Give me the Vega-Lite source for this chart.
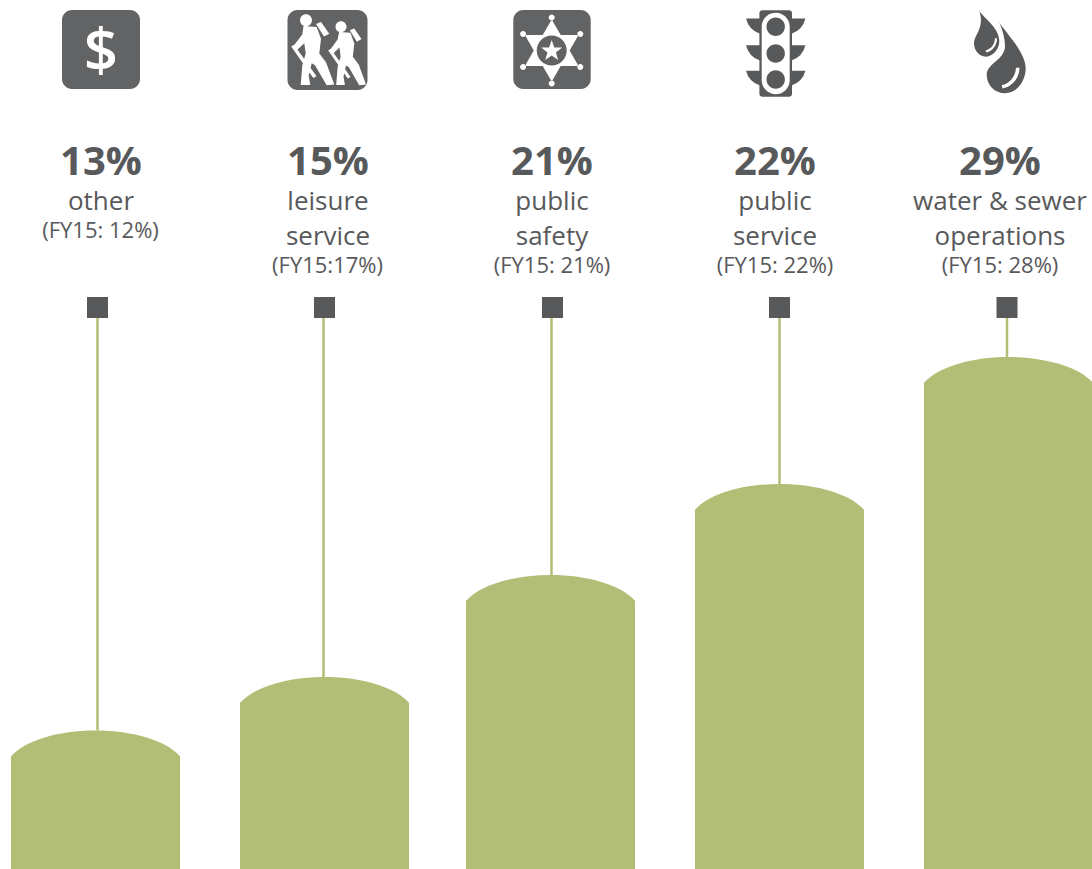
{
  "$schema": "https://vega.github.io/schema/vega-lite/v6.json",
  "width": 1092,
  "height": 869,
  "padding": 0,
  "autosize": {"type": "none"},
  "background": "#ffffff",
  "config": {"view": {"stroke": null}},
  "datasets": {
    "categories": [
      {"rank": 1, "category": "other", "share": 13, "prior": "(FY15: 12%)", "nameLines": 1},
      {"rank": 2, "category": "leisure service", "share": 15, "prior": "(FY15:17%)", "nameLines": 2},
      {"rank": 3, "category": "public safety", "share": 21, "prior": "(FY15: 21%)", "nameLines": 2},
      {"rank": 4, "category": "public service", "share": 22, "prior": "(FY15: 22%)", "nameLines": 2},
      {"rank": 5, "category": "water & sewer operations", "share": 29, "prior": "(FY15: 28%)", "nameLines": 2}
    ],
    "textLines": [
      {"rank": 1, "line": 0, "text": "13%"},
      {"rank": 2, "line": 0, "text": "15%"},
      {"rank": 3, "line": 0, "text": "21%"},
      {"rank": 4, "line": 0, "text": "22%"},
      {"rank": 5, "line": 0, "text": "29%"},
      {"rank": 1, "line": 1, "text": "other"},
      {"rank": 2, "line": 1, "text": "leisure"},
      {"rank": 2, "line": 2, "text": "service"},
      {"rank": 3, "line": 1, "text": "public"},
      {"rank": 3, "line": 2, "text": "safety"},
      {"rank": 4, "line": 1, "text": "public"},
      {"rank": 4, "line": 2, "text": "service"},
      {"rank": 5, "line": 1, "text": "water & sewer"},
      {"rank": 5, "line": 2, "text": "operations"}
    ],
    "iconParts": [
      {"rank": 1, "part": "plateDollar", "tone": "plate"},
      {"rank": 2, "part": "plateHikers", "tone": "plate"},
      {"rank": 2, "part": "hikers", "tone": "light"},
      {"rank": 3, "part": "plateBadge", "tone": "plate"},
      {"rank": 3, "part": "badge", "tone": "light"},
      {"rank": 3, "part": "badgeDisc", "tone": "plate"},
      {"rank": 3, "part": "badgeStar", "tone": "light"},
      {"rank": 4, "part": "signalHousing", "tone": "dark"},
      {"rank": 4, "part": "signalCapsule", "tone": "light"},
      {"rank": 4, "part": "signalLamps", "tone": "dark"},
      {"rank": 5, "part": "drops", "tone": "dark"},
      {"rank": 5, "part": "dropGlints", "tone": "light"}
    ]
  },
  "resolve": {"scale": {"x": "independent", "y": "independent", "shape": "independent", "color": "independent"}},
  "layer": [
    {
      "data": {"name": "categories"},
      "mark": {"type": "bar", "width": 169, "orient": "vertical", "yOffset": 25.5, "y2Offset": 0, "color": "#b2be76", "clip": true},
      "encoding": {
        "x": {"field": "rank", "type": "quantitative", "axis": null, "scale": {"domain": [1, 2, 3, 4, 5], "range": [95.5, 324.5, 550.5, 779.5, 1008.5], "padding": 0}},
        "y": {"field": "share", "type": "quantitative", "axis": null, "stack": null, "scale": {"domain": [0, 13, 15, 21, 22, 29, 33], "range": [869, 730.5, 677, 575, 484, 357, 307.5]}},
        "y2": {"datum": 0}
      }
    },
    {
      "data": {"name": "categories"},
      "mark": {"type": "point", "filled": true, "opacity": 1, "size": 4, "strokeWidth": 0, "color": "#b2be76", "shape": "M-84.5,26 A90,39.6 0 0 1 84.5,26 Z"},
      "encoding": {
        "x": {"field": "rank", "type": "quantitative", "axis": null, "scale": {"domain": [1, 2, 3, 4, 5], "range": [95.5, 324.5, 550.5, 779.5, 1008.5]}},
        "y": {"field": "share", "type": "quantitative", "axis": null, "scale": {"domain": [0, 13, 15, 21, 22, 29, 33], "range": [869, 730.5, 677, 575, 484, 357, 307.5]}}
      }
    },
    {
      "data": {"name": "categories"},
      "mark": {"type": "rule", "color": "#b2be76", "strokeWidth": 2.5},
      "encoding": {
        "x": {"field": "rank", "type": "quantitative", "axis": null, "scale": {"domain": [1, 2, 3, 4, 5], "range": [97.5, 323.5, 551.5, 779.5, 1007]}},
        "y": {"field": "share", "type": "quantitative", "axis": null, "scale": {"domain": [0, 13, 15, 21, 22, 29, 33], "range": [869, 730.5, 677, 575, 484, 357, 307.5]}},
        "y2": {"datum": 33}
      }
    },
    {
      "data": {"name": "categories"},
      "mark": {"type": "point", "shape": "square", "filled": true, "opacity": 1, "size": 441, "strokeWidth": 0, "color": "#58595b"},
      "encoding": {
        "x": {"field": "rank", "type": "quantitative", "axis": null, "scale": {"domain": [1, 2, 3, 4, 5], "range": [97.5, 324.5, 552.5, 779.5, 1007]}},
        "y": {"datum": 33, "type": "quantitative", "axis": null, "scale": {"domain": [0, 13, 15, 21, 22, 29, 33], "range": [869, 730.5, 677, 575, 484, 357, 307.5]}}
      }
    },
    {
      "data": {"name": "iconParts"},
      "mark": {"type": "point", "filled": true, "opacity": 1, "size": 4, "strokeWidth": 0},
      "encoding": {
        "x": {"field": "rank", "type": "quantitative", "axis": null, "scale": {"domain": [1, 2, 3, 4, 5], "range": [101, 327.5, 552.5, 775.7, 1000]}},
        "y": {"datum": 45, "type": "quantitative", "axis": null, "scale": {"domain": [0, 45], "range": [869, 50]}},
        "color": {"field": "tone", "type": "nominal", "legend": null, "scale": {"domain": ["plate", "dark", "light"], "range": ["#626365", "#58595b", "#ffffff"]}},
        "shape": {
          "field": "part",
          "type": "nominal",
          "legend": null,
          "scale": {
            "domain": ["plateDollar", "plateHikers", "hikers", "plateBadge", "badge", "badgeDisc", "badgeStar", "signalHousing", "signalCapsule", "signalLamps", "drops", "dropGlints"],
            "range": [
              "M-29,-40 L29,-40 A10,10 0 0 1 39,-30 L39,29 A10,10 0 0 1 29,39 L-29,39 A10,10 0 0 1 -39,29 L-39,-30 A10,10 0 0 1 -29,-40 Z",
              "M-30,-40 L30,-40 A10,10 0 0 1 40,-30 L40,30 A10,10 0 0 1 30,40 L-30,40 A10,10 0 0 1 -40,30 L-40,-30 A10,10 0 0 1 -30,-40 Z",
              "M-24,-24 L-10.8,-23.1 L-6.5,-11.2 L-8.2,3.5 L-1.5,12.3 L6.8,34.5 L-0.8,35.3 L-12.5,15.3 L-15.8,13.2 L-18.8,25.6 L-17.2,35 L-26.8,35 L-25.2,15.3 L-21.8,3.5 L-23.2,-6.8 L-30.2,-0.3 L-33.5,-4.8 L-25.2,-15.6 Z M-27.5,-29.8 A6,6 0 1 0 -15.5,-29.8 A6,6 0 1 0 -27.5,-29.8 Z M-11.5,-26 L-6.5,-28 L1.8,-16.3 L-3.5,-13.4 Z M-36.3,-3.5 L-33.5,-5.2 L-11,26.2 L-14.2,27.9 Z M11.6,-18 L22.9,-17.2 L26.8,-6.5 L25.3,6.7 L31.2,14.6 L38.5,34.5 L31.7,35.2 L21.4,17.3 L18.5,15.4 L16,26.5 L17.4,34.9 L8.7,34.9 L10.1,17.3 L13.1,6.7 L12,-2.6 L5.8,3.5 L3,-0.8 L10.1,-10.5 Z M8,-23.2 A5.5,5.5 0 1 0 19,-23.2 A5.5,5.5 0 1 0 8,-23.2 Z M22.3,-19.8 L26.7,-21.6 L34,-11.1 L29.4,-8.3 Z M0.7,0.4 L3.2,-1.2 L23.1,27 L20.2,28.5 Z",
              "M-29.2,-40 L28.2,-40 A10,10 0 0 1 38.2,-30 L38.2,29 A10,10 0 0 1 28.2,39 L-29.2,39 A10,10 0 0 1 -39.2,29 L-39.2,-30 A10,10 0 0 1 -29.2,-40 Z",
              "M-0.8,-30.5 L8.2,-15 L26,-15 L17.1,0.5 L26,16 L8.2,16 L-0.8,31.5 L-9.8,16 L-27.6,16 L-18.7,0.5 L-27.6,-15 L-9.8,-15 Z M-3.8,-32.5 A3,3 0 1 0 2.2,-32.5 A3,3 0 1 0 -3.8,-32.5 Z M24.8,-16 A3,3 0 1 0 30.8,-16 A3,3 0 1 0 24.8,-16 Z M24.8,17 A3,3 0 1 0 30.8,17 A3,3 0 1 0 24.8,17 Z M-3.8,33.5 A3,3 0 1 0 2.2,33.5 A3,3 0 1 0 -3.8,33.5 Z M-32.4,17 A3,3 0 1 0 -26.4,17 A3,3 0 1 0 -32.4,17 Z M-32.4,-16 A3,3 0 1 0 -26.4,-16 A3,3 0 1 0 -32.4,-16 Z",
              "M-15.8,0.5 A15,15 0 1 0 14.2,0.5 A15,15 0 1 0 -15.8,0.5 Z",
              "M-0.8,-10 L1.8,-2.6 L9.7,-2.4 L3.4,2.4 L5.7,9.9 L-0.8,5.4 L-7.3,9.9 L-5,2.4 L-11.3,-2.4 L-3.4,-2.6 Z",
              "M-13,-39.8 L13,-39.8 Q16.3,-39.8 16.3,-36.5 L16.3,-31.5 L29.7,-31.5 Q27,-20.5 16.3,-16.5 L16.3,-4.8 L29.7,-4.8 Q27,6.5 16.3,10.2 L16.3,20.8 L29.7,20.8 Q27,31.5 16.3,35.2 L16.3,43.5 Q16.3,46.8 13,46.8 L-13,46.8 Q-16.3,46.8 -16.3,43.5 L-16.3,35.2 Q-27,31.5 -29.7,20.8 L-16.3,20.8 L-16.3,10.2 Q-27,6.5 -29.7,-4.8 L-16.3,-4.8 L-16.3,-16.5 Q-27,-20.5 -29.7,-31.5 L-16.3,-31.5 L-16.3,-36.5 Q-16.3,-39.8 -13,-39.8 Z",
              "M-14,-23.2 A14,14 0 0 1 14,-23.2 L14,30.2 A14,14 0 0 1 -14,30.2 Z",
              "M-9.2,-23.2 A9.2,9.2 0 1 0 9.2,-23.2 A9.2,9.2 0 1 0 -9.2,-23.2 Z M-9.2,3.5 A9.2,9.2 0 1 0 9.2,3.5 A9.2,9.2 0 1 0 -9.2,3.5 Z M-9.2,29.5 A9.2,9.2 0 1 0 9.2,29.5 A9.2,9.2 0 1 0 -9.2,29.5 Z",
              "M-20.7,-39 C-14,-30 -1,-22 -0.7,-9 C-0.5,-1 -7,6.7 -14,6.7 C-21,6.7 -26,0 -26,-6.7 C-26,-15 -15,-22 -20.7,-39 Z M-0.7,-27.3 C8,-15 25.7,3 25.7,18.3 C25.7,32 16,43.3 5,43.3 C-5,43.3 -13.3,35 -13.3,25 C-13.3,13 5,10 5,-4 C5,-12 2,-22 -0.7,-27.3 Z",
              "M-5,-11.7 L-3,-11.7 C-3,-5 -7,1 -13.5,2.5 L-14.5,0.5 C-9,-1 -5.5,-5 -5,-11.7 Z M16,17.7 L19.5,17.7 C19.5,28 12,37 2.5,38.5 L1.7,35 C9,34 15.5,27 16,17.7 Z"
            ]
          }
        }
      }
    },
    {
      "data": {"values": [{"rank": 1, "glyph": "$"}]},
      "mark": {"type": "text", "font": "Open Sans", "fontWeight": 600, "fontSize": 60, "align": "center", "baseline": "alphabetic", "color": "#ffffff"},
      "encoding": {
        "x": {"field": "rank", "type": "quantitative", "axis": null, "scale": {"domain": [1, 2], "range": [101, 327.5]}},
        "y": {"datum": 45, "type": "quantitative", "axis": null, "scale": {"domain": [0, 45], "range": [869, 71]}},
        "text": {"field": "glyph"}
      }
    },
    {
      "data": {"name": "textLines"},
      "transform": [{"filter": "datum.line === 0"}],
      "mark": {"type": "text", "font": "Open Sans", "fontWeight": 700, "fontSize": 40, "align": "center", "baseline": "alphabetic", "color": "#58595b"},
      "encoding": {
        "x": {"field": "rank", "type": "quantitative", "axis": null, "scale": {"domain": [1, 2, 3, 4, 5], "range": [101, 328, 552, 775, 1000]}},
        "y": {"field": "line", "type": "quantitative", "axis": null, "scale": {"domain": [0, 2], "range": [175, 245]}},
        "text": {"field": "text"}
      }
    },
    {
      "data": {"name": "textLines"},
      "transform": [{"filter": "datum.line > 0"}],
      "mark": {"type": "text", "font": "Open Sans", "fontSize": 26, "align": "center", "baseline": "alphabetic", "color": "#58595b"},
      "encoding": {
        "x": {"field": "rank", "type": "quantitative", "axis": null, "scale": {"domain": [1, 2, 3, 4, 5], "range": [101, 328, 552, 775, 1000]}},
        "y": {"field": "line", "type": "quantitative", "axis": null, "scale": {"domain": [0, 2], "range": [175, 245]}},
        "text": {"field": "text"}
      }
    },
    {
      "data": {"name": "categories"},
      "mark": {"type": "text", "font": "Open Sans", "fontSize": 22, "align": "center", "baseline": "alphabetic", "color": "#58595b"},
      "encoding": {
        "x": {"field": "rank", "type": "quantitative", "axis": null, "scale": {"domain": [1, 2, 3, 4, 5], "range": [100.5, 327.5, 552, 775, 1000]}},
        "y": {"field": "nameLines", "type": "quantitative", "axis": null, "scale": {"domain": [1, 2], "range": [238, 273]}},
        "text": {"field": "prior"}
      }
    }
  ]
}
